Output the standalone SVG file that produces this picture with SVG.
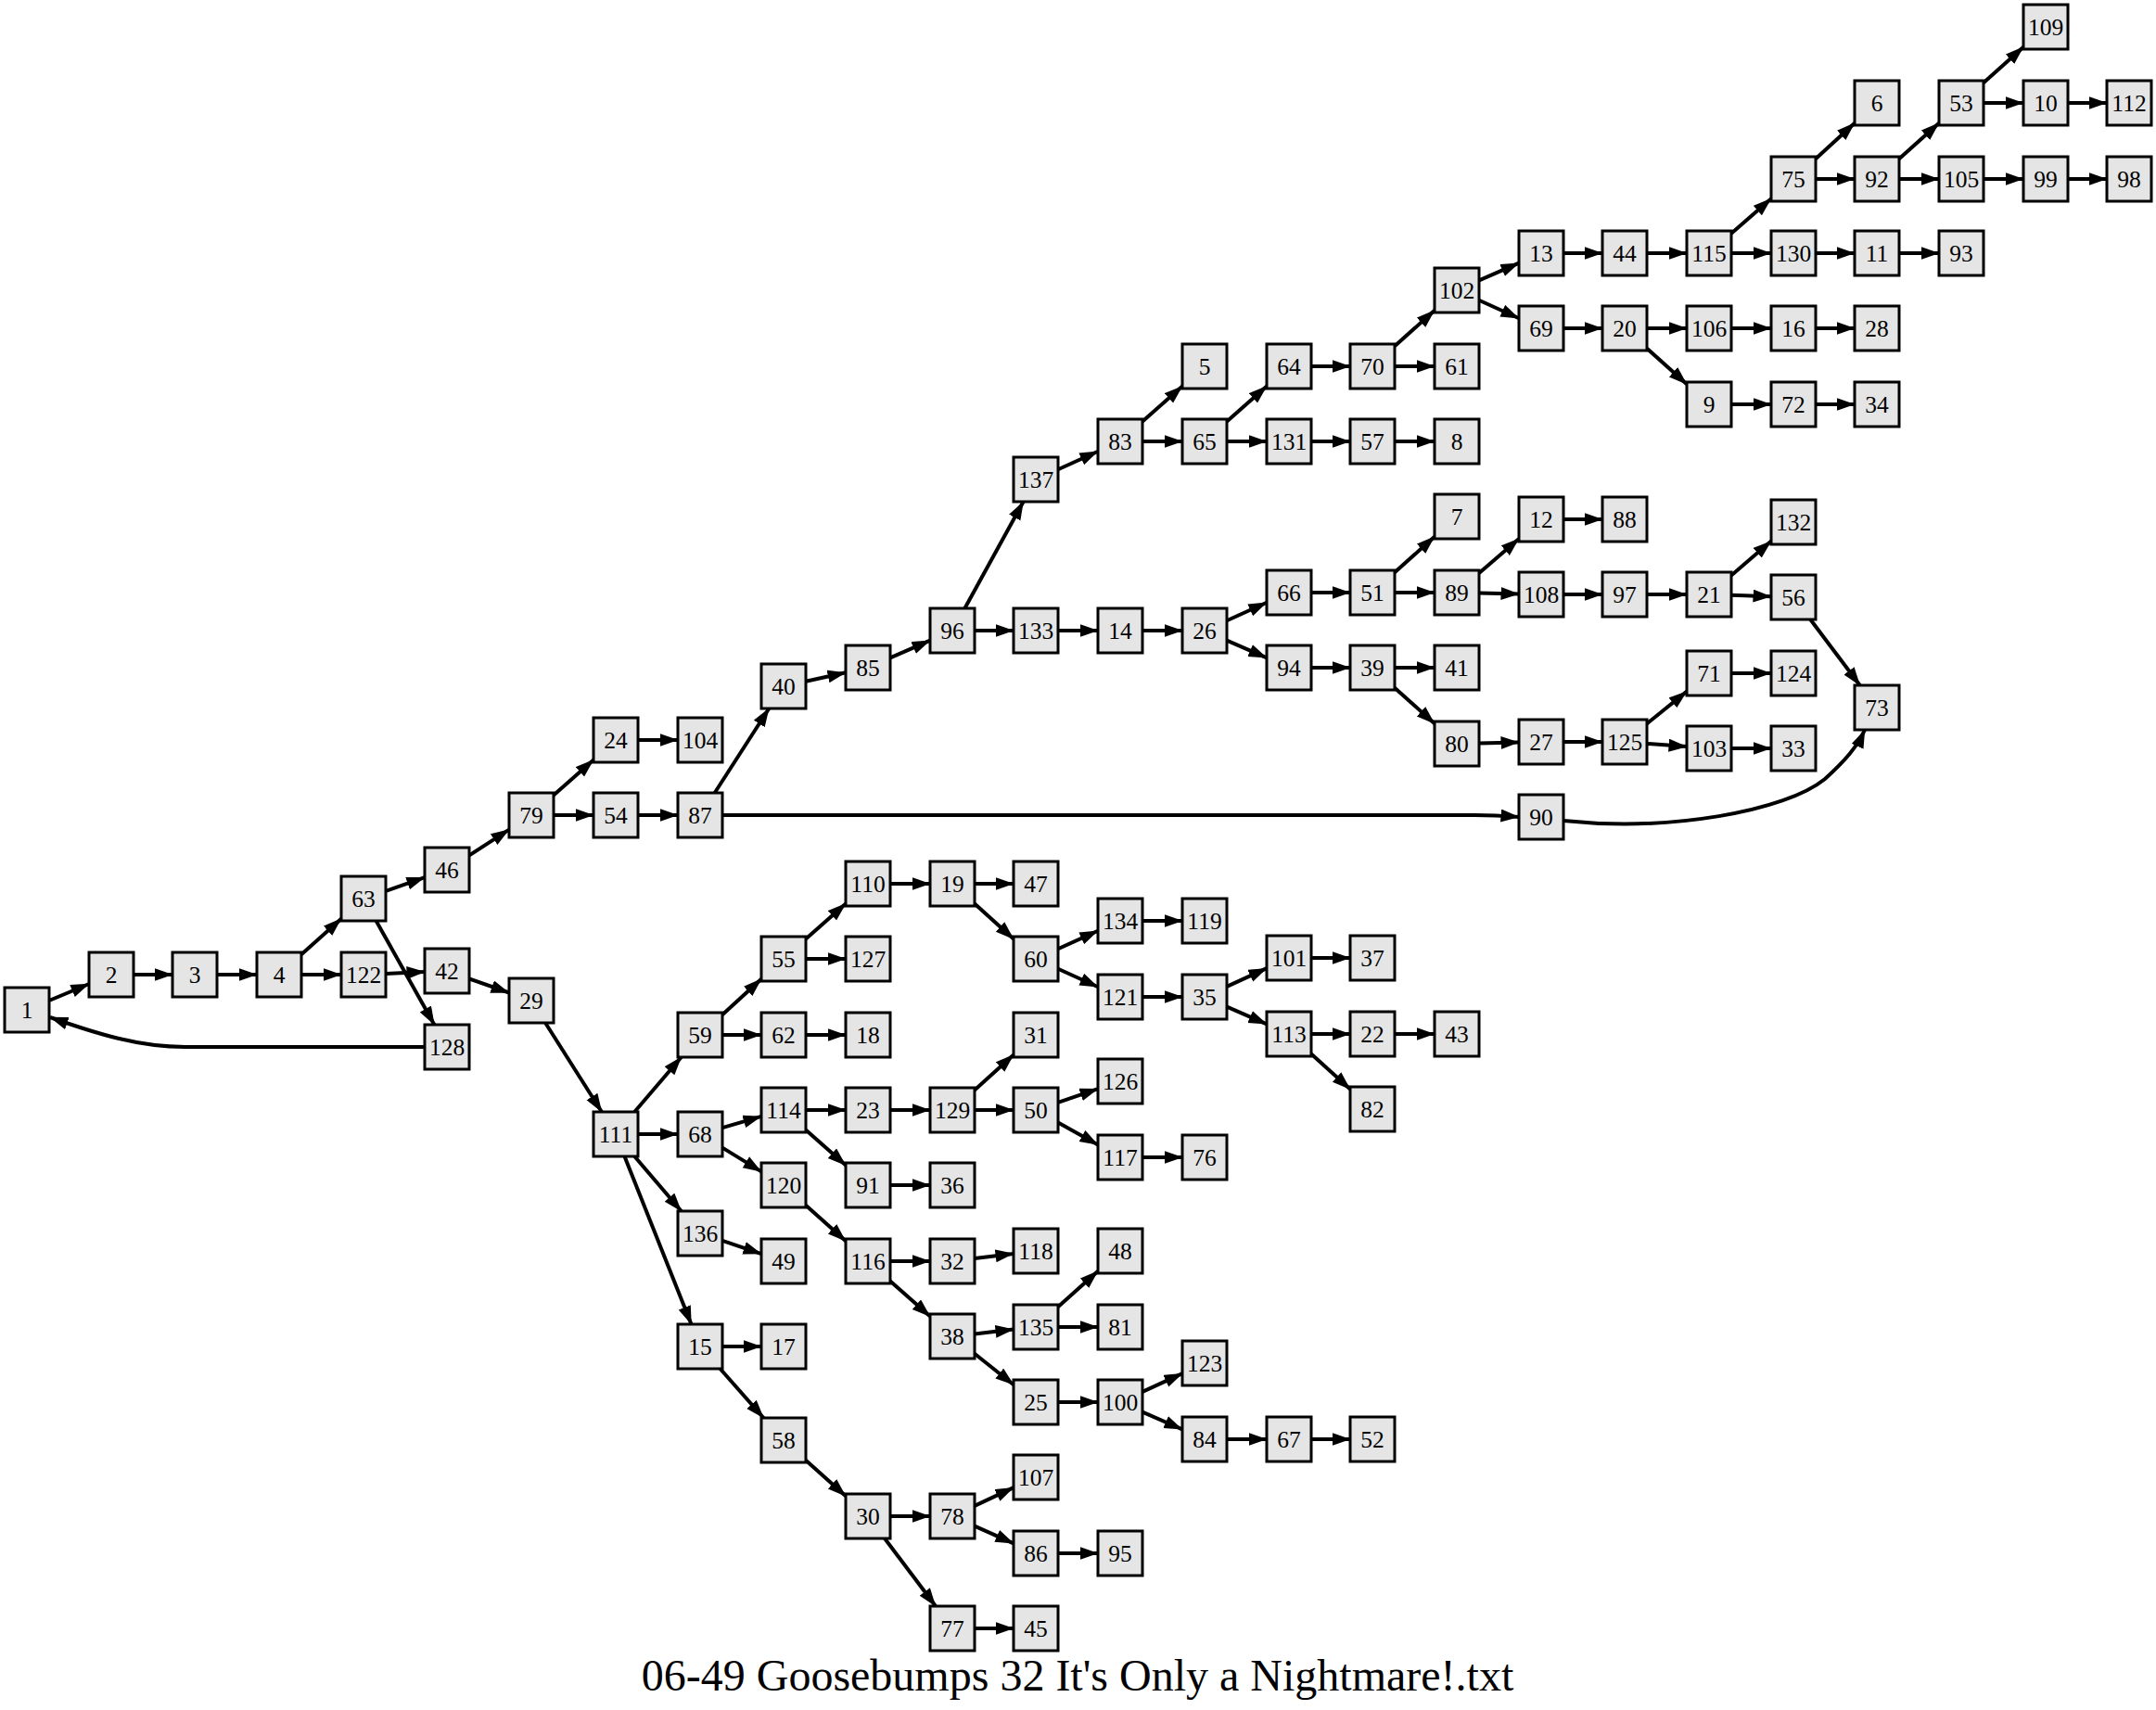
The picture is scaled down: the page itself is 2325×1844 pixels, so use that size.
<svg xmlns="http://www.w3.org/2000/svg" width="2325" height="1844" viewBox="0 0 2325 1844">
<style>
.node rect{fill:#e5e5e5;stroke:#000;stroke-width:3}
.node text{font-family:"Liberation Serif","Times New Roman",serif;font-size:25.5px;text-anchor:middle;fill:#000}
#edges path{fill:none;stroke:#000;stroke-width:4;marker-end:url(#arr)}
.title{font-family:"Liberation Serif","Times New Roman",serif;font-size:48px;text-anchor:middle;fill:#000}
</style>
<defs>
<marker id="arr" markerUnits="userSpaceOnUse" markerWidth="21" markerHeight="15" refX="19.5" refY="7" orient="auto">
<path d="M0,0 L20,7 L0,14 z" fill="#000"/>
</marker>
</defs>
<rect width="2325" height="1844" fill="#fff"/>
<g id="edges">
<path d="M53,1079 L96,1061"/>
<path d="M144,1051 L186,1051"/>
<path d="M234,1051 L277,1051"/>
<path d="M325,1029.3 L368,990.7"/>
<path d="M325,1051 L368,1051"/>
<path d="M416,960.8 L458,946.2"/>
<path d="M405.6,993 L468.4,1105"/>
<path d="M416,1049.9 L458,1048.1"/>
<path d="M506,1055.5 L549,1070.5"/>
<path d="M458,1129 L200,1129 C150,1129 105,1115 54,1097"/>
<path d="M506,922.4 L549,894.6"/>
<path d="M597,857.6 L640,819.4"/>
<path d="M597,879 L640,879"/>
<path d="M688,798 L731,798"/>
<path d="M688,879 L731,879"/>
<path d="M770.7,855 L829.3,764"/>
<path d="M779,879 L1590,879 C1610,879 1625,880 1638,881"/>
<path d="M869,734.7 L912,725.3"/>
<path d="M960,709.4 L1003,690.6"/>
<path d="M1040.4,656 L1103.6,541"/>
<path d="M1051,680 L1093,680"/>
<path d="M1141,506.2 L1184,486.8"/>
<path d="M1232,454.6 L1275,416.4"/>
<path d="M1232,476 L1275,476"/>
<path d="M1323,454.6 L1366,416.4"/>
<path d="M1323,476 L1366,476"/>
<path d="M1414,395 L1456,395"/>
<path d="M1504,373.3 L1547,334.7"/>
<path d="M1504,395 L1547,395"/>
<path d="M1414,476 L1456,476"/>
<path d="M1504,476 L1547,476"/>
<path d="M1595,302.4 L1638,283.6"/>
<path d="M1595,323.8 L1638,343.2"/>
<path d="M1686,273 L1728,273"/>
<path d="M1776,273 L1819,273"/>
<path d="M1867,251.8 L1910,214.2"/>
<path d="M1867,273 L1910,273"/>
<path d="M1958,171.3 L2000,132.7"/>
<path d="M1958,193 L2000,193"/>
<path d="M2048,171.3 L2091,132.7"/>
<path d="M2048,193 L2091,193"/>
<path d="M2139,89.3 L2182,50.7"/>
<path d="M2139,111 L2182,111"/>
<path d="M2230,111 L2272,111"/>
<path d="M2139,193 L2182,193"/>
<path d="M2230,193 L2272,193"/>
<path d="M1958,273 L2000,273"/>
<path d="M2048,273 L2091,273"/>
<path d="M1686,354 L1728,354"/>
<path d="M1776,354 L1819,354"/>
<path d="M1776,375.7 L1819,414.3"/>
<path d="M1867,354 L1910,354"/>
<path d="M1958,354 L2000,354"/>
<path d="M1867,436 L1910,436"/>
<path d="M1958,436 L2000,436"/>
<path d="M1141,680 L1184,680"/>
<path d="M1232,680 L1275,680"/>
<path d="M1323,669.2 L1366,649.8"/>
<path d="M1323,690.6 L1366,709.4"/>
<path d="M1414,639 L1456,639"/>
<path d="M1504,617.3 L1547,578.7"/>
<path d="M1504,639 L1547,639"/>
<path d="M1595,618.1 L1638,580.9"/>
<path d="M1595,639.5 L1638,640.5"/>
<path d="M1686,560 L1728,560"/>
<path d="M1686,641 L1728,641"/>
<path d="M1776,641 L1819,641"/>
<path d="M1867,620.4 L1910,583.6"/>
<path d="M1867,641.8 L1910,643.2"/>
<path d="M1952.3,668 L2005.7,739"/>
<path d="M1414,720 L1456,720"/>
<path d="M1504,720 L1547,720"/>
<path d="M1504,741.7 L1547,780.3"/>
<path d="M1595,801.5 L1638,800.5"/>
<path d="M1686,800 L1728,800"/>
<path d="M1776,780.4 L1819,745.6"/>
<path d="M1776,801.9 L1819,805.1"/>
<path d="M1867,726 L1910,726"/>
<path d="M1867,807 L1910,807"/>
<path d="M1686,885 C1800,897 1925,875 1968,840 C1990,820 2003,805 2011,787"/>
<path d="M588.1,1103 L648.9,1199"/>
<path d="M684.3,1199 L734.7,1140"/>
<path d="M688,1223 L731,1223"/>
<path d="M684.3,1247 L734.7,1306"/>
<path d="M673.5,1247 L745.5,1428"/>
<path d="M779,1094.3 L821,1055.7"/>
<path d="M779,1116 L821,1116"/>
<path d="M869,1012.6 L912,974.4"/>
<path d="M869,1034 L912,1034"/>
<path d="M960,953 L1003,953"/>
<path d="M1051,953 L1093,953"/>
<path d="M1051,974.4 L1093,1012.6"/>
<path d="M1141,1023.2 L1184,1003.8"/>
<path d="M1141,1044.8 L1184,1064.2"/>
<path d="M1232,993 L1275,993"/>
<path d="M1232,1075 L1275,1075"/>
<path d="M1323,1063.9 L1366,1044.1"/>
<path d="M1323,1085.6 L1366,1104.4"/>
<path d="M1414,1033 L1456,1033"/>
<path d="M1414,1115 L1456,1115"/>
<path d="M1414,1136.4 L1456,1174.6"/>
<path d="M1504,1115 L1547,1115"/>
<path d="M869,1116 L912,1116"/>
<path d="M779,1216.1 L821,1203.9"/>
<path d="M779,1237.6 L821,1263.4"/>
<path d="M869,1197 L912,1197"/>
<path d="M869,1218.4 L912,1256.6"/>
<path d="M960,1197 L1003,1197"/>
<path d="M1051,1175.6 L1093,1137.4"/>
<path d="M1051,1197 L1093,1197"/>
<path d="M1141,1188.8 L1184,1174.2"/>
<path d="M1141,1210.5 L1184,1234.5"/>
<path d="M1232,1248 L1275,1248"/>
<path d="M960,1278 L1003,1278"/>
<path d="M869,1299.7 L912,1338.3"/>
<path d="M960,1360 L1003,1360"/>
<path d="M960,1381.4 L1003,1419.6"/>
<path d="M1051,1357.1 L1093,1351.9"/>
<path d="M1051,1438.4 L1093,1433.6"/>
<path d="M1051,1459.8 L1093,1493.2"/>
<path d="M1141,1409.3 L1184,1370.7"/>
<path d="M1141,1431 L1184,1431"/>
<path d="M1141,1512 L1184,1512"/>
<path d="M1232,1500.9 L1275,1481.1"/>
<path d="M1232,1522.6 L1275,1541.4"/>
<path d="M1323,1552 L1366,1552"/>
<path d="M1414,1552 L1456,1552"/>
<path d="M779,1337.9 L821,1352.1"/>
<path d="M779,1452 L821,1452"/>
<path d="M776.6,1476 L823.4,1529"/>
<path d="M869,1574.7 L912,1613.3"/>
<path d="M960,1635 L1003,1635"/>
<path d="M954,1659 L1009,1732"/>
<path d="M1051,1623.9 L1093,1604.1"/>
<path d="M1051,1645.6 L1093,1664.4"/>
<path d="M1141,1675 L1184,1675"/>
<path d="M1051,1756 L1093,1756"/>
</g>
<g id="n1" class="node"><rect x="5" y="1065" width="48" height="48"/><text x="29" y="1097.5">1</text></g>
<g id="n2" class="node"><rect x="96" y="1027" width="48" height="48"/><text x="120" y="1059.5">2</text></g>
<g id="n3" class="node"><rect x="186" y="1027" width="48" height="48"/><text x="210" y="1059.5">3</text></g>
<g id="n4" class="node"><rect x="277" y="1027" width="48" height="48"/><text x="301" y="1059.5">4</text></g>
<g id="n63" class="node"><rect x="368" y="945" width="48" height="48"/><text x="392" y="977.5">63</text></g>
<g id="n122" class="node"><rect x="368" y="1027" width="48" height="48"/><text x="392" y="1059.5">122</text></g>
<g id="n46" class="node"><rect x="458" y="914" width="48" height="48"/><text x="482" y="946.5">46</text></g>
<g id="n42" class="node"><rect x="458" y="1023" width="48" height="48"/><text x="482" y="1055.5">42</text></g>
<g id="n128" class="node"><rect x="458" y="1105" width="48" height="48"/><text x="482" y="1137.5">128</text></g>
<g id="n79" class="node"><rect x="549" y="855" width="48" height="48"/><text x="573" y="887.5">79</text></g>
<g id="n29" class="node"><rect x="549" y="1055" width="48" height="48"/><text x="573" y="1087.5">29</text></g>
<g id="n24" class="node"><rect x="640" y="774" width="48" height="48"/><text x="664" y="806.5">24</text></g>
<g id="n54" class="node"><rect x="640" y="855" width="48" height="48"/><text x="664" y="887.5">54</text></g>
<g id="n111" class="node"><rect x="640" y="1199" width="48" height="48"/><text x="664" y="1231.5">111</text></g>
<g id="n104" class="node"><rect x="731" y="774" width="48" height="48"/><text x="755" y="806.5">104</text></g>
<g id="n87" class="node"><rect x="731" y="855" width="48" height="48"/><text x="755" y="887.5">87</text></g>
<g id="n59" class="node"><rect x="731" y="1092" width="48" height="48"/><text x="755" y="1124.5">59</text></g>
<g id="n68" class="node"><rect x="731" y="1199" width="48" height="48"/><text x="755" y="1231.5">68</text></g>
<g id="n136" class="node"><rect x="731" y="1306" width="48" height="48"/><text x="755" y="1338.5">136</text></g>
<g id="n15" class="node"><rect x="731" y="1428" width="48" height="48"/><text x="755" y="1460.5">15</text></g>
<g id="n40" class="node"><rect x="821" y="716" width="48" height="48"/><text x="845" y="748.5">40</text></g>
<g id="n55" class="node"><rect x="821" y="1010" width="48" height="48"/><text x="845" y="1042.5">55</text></g>
<g id="n62" class="node"><rect x="821" y="1092" width="48" height="48"/><text x="845" y="1124.5">62</text></g>
<g id="n114" class="node"><rect x="821" y="1173" width="48" height="48"/><text x="845" y="1205.5">114</text></g>
<g id="n120" class="node"><rect x="821" y="1254" width="48" height="48"/><text x="845" y="1286.5">120</text></g>
<g id="n49" class="node"><rect x="821" y="1336" width="48" height="48"/><text x="845" y="1368.5">49</text></g>
<g id="n17" class="node"><rect x="821" y="1428" width="48" height="48"/><text x="845" y="1460.5">17</text></g>
<g id="n58" class="node"><rect x="821" y="1529" width="48" height="48"/><text x="845" y="1561.5">58</text></g>
<g id="n85" class="node"><rect x="912" y="696" width="48" height="48"/><text x="936" y="728.5">85</text></g>
<g id="n110" class="node"><rect x="912" y="929" width="48" height="48"/><text x="936" y="961.5">110</text></g>
<g id="n127" class="node"><rect x="912" y="1010" width="48" height="48"/><text x="936" y="1042.5">127</text></g>
<g id="n18" class="node"><rect x="912" y="1092" width="48" height="48"/><text x="936" y="1124.5">18</text></g>
<g id="n23" class="node"><rect x="912" y="1173" width="48" height="48"/><text x="936" y="1205.5">23</text></g>
<g id="n91" class="node"><rect x="912" y="1254" width="48" height="48"/><text x="936" y="1286.5">91</text></g>
<g id="n116" class="node"><rect x="912" y="1336" width="48" height="48"/><text x="936" y="1368.5">116</text></g>
<g id="n30" class="node"><rect x="912" y="1611" width="48" height="48"/><text x="936" y="1643.5">30</text></g>
<g id="n96" class="node"><rect x="1003" y="656" width="48" height="48"/><text x="1027" y="688.5">96</text></g>
<g id="n19" class="node"><rect x="1003" y="929" width="48" height="48"/><text x="1027" y="961.5">19</text></g>
<g id="n129" class="node"><rect x="1003" y="1173" width="48" height="48"/><text x="1027" y="1205.5">129</text></g>
<g id="n36" class="node"><rect x="1003" y="1254" width="48" height="48"/><text x="1027" y="1286.5">36</text></g>
<g id="n32" class="node"><rect x="1003" y="1336" width="48" height="48"/><text x="1027" y="1368.5">32</text></g>
<g id="n38" class="node"><rect x="1003" y="1417" width="48" height="48"/><text x="1027" y="1449.5">38</text></g>
<g id="n78" class="node"><rect x="1003" y="1611" width="48" height="48"/><text x="1027" y="1643.5">78</text></g>
<g id="n77" class="node"><rect x="1003" y="1732" width="48" height="48"/><text x="1027" y="1764.5">77</text></g>
<g id="n137" class="node"><rect x="1093" y="493" width="48" height="48"/><text x="1117" y="525.5">137</text></g>
<g id="n133" class="node"><rect x="1093" y="656" width="48" height="48"/><text x="1117" y="688.5">133</text></g>
<g id="n47" class="node"><rect x="1093" y="929" width="48" height="48"/><text x="1117" y="961.5">47</text></g>
<g id="n60" class="node"><rect x="1093" y="1010" width="48" height="48"/><text x="1117" y="1042.5">60</text></g>
<g id="n31" class="node"><rect x="1093" y="1092" width="48" height="48"/><text x="1117" y="1124.5">31</text></g>
<g id="n50" class="node"><rect x="1093" y="1173" width="48" height="48"/><text x="1117" y="1205.5">50</text></g>
<g id="n118" class="node"><rect x="1093" y="1325" width="48" height="48"/><text x="1117" y="1357.5">118</text></g>
<g id="n135" class="node"><rect x="1093" y="1407" width="48" height="48"/><text x="1117" y="1439.5">135</text></g>
<g id="n25" class="node"><rect x="1093" y="1488" width="48" height="48"/><text x="1117" y="1520.5">25</text></g>
<g id="n107" class="node"><rect x="1093" y="1569" width="48" height="48"/><text x="1117" y="1601.5">107</text></g>
<g id="n86" class="node"><rect x="1093" y="1651" width="48" height="48"/><text x="1117" y="1683.5">86</text></g>
<g id="n45" class="node"><rect x="1093" y="1732" width="48" height="48"/><text x="1117" y="1764.5">45</text></g>
<g id="n83" class="node"><rect x="1184" y="452" width="48" height="48"/><text x="1208" y="484.5">83</text></g>
<g id="n14" class="node"><rect x="1184" y="656" width="48" height="48"/><text x="1208" y="688.5">14</text></g>
<g id="n134" class="node"><rect x="1184" y="969" width="48" height="48"/><text x="1208" y="1001.5">134</text></g>
<g id="n121" class="node"><rect x="1184" y="1051" width="48" height="48"/><text x="1208" y="1083.5">121</text></g>
<g id="n126" class="node"><rect x="1184" y="1142" width="48" height="48"/><text x="1208" y="1174.5">126</text></g>
<g id="n117" class="node"><rect x="1184" y="1224" width="48" height="48"/><text x="1208" y="1256.5">117</text></g>
<g id="n48" class="node"><rect x="1184" y="1325" width="48" height="48"/><text x="1208" y="1357.5">48</text></g>
<g id="n81" class="node"><rect x="1184" y="1407" width="48" height="48"/><text x="1208" y="1439.5">81</text></g>
<g id="n100" class="node"><rect x="1184" y="1488" width="48" height="48"/><text x="1208" y="1520.5">100</text></g>
<g id="n95" class="node"><rect x="1184" y="1651" width="48" height="48"/><text x="1208" y="1683.5">95</text></g>
<g id="n5" class="node"><rect x="1275" y="371" width="48" height="48"/><text x="1299" y="403.5">5</text></g>
<g id="n65" class="node"><rect x="1275" y="452" width="48" height="48"/><text x="1299" y="484.5">65</text></g>
<g id="n26" class="node"><rect x="1275" y="656" width="48" height="48"/><text x="1299" y="688.5">26</text></g>
<g id="n119" class="node"><rect x="1275" y="969" width="48" height="48"/><text x="1299" y="1001.5">119</text></g>
<g id="n35" class="node"><rect x="1275" y="1051" width="48" height="48"/><text x="1299" y="1083.5">35</text></g>
<g id="n76" class="node"><rect x="1275" y="1224" width="48" height="48"/><text x="1299" y="1256.5">76</text></g>
<g id="n123" class="node"><rect x="1275" y="1446" width="48" height="48"/><text x="1299" y="1478.5">123</text></g>
<g id="n84" class="node"><rect x="1275" y="1528" width="48" height="48"/><text x="1299" y="1560.5">84</text></g>
<g id="n64" class="node"><rect x="1366" y="371" width="48" height="48"/><text x="1390" y="403.5">64</text></g>
<g id="n131" class="node"><rect x="1366" y="452" width="48" height="48"/><text x="1390" y="484.5">131</text></g>
<g id="n66" class="node"><rect x="1366" y="615" width="48" height="48"/><text x="1390" y="647.5">66</text></g>
<g id="n94" class="node"><rect x="1366" y="696" width="48" height="48"/><text x="1390" y="728.5">94</text></g>
<g id="n101" class="node"><rect x="1366" y="1009" width="48" height="48"/><text x="1390" y="1041.5">101</text></g>
<g id="n113" class="node"><rect x="1366" y="1091" width="48" height="48"/><text x="1390" y="1123.5">113</text></g>
<g id="n67" class="node"><rect x="1366" y="1528" width="48" height="48"/><text x="1390" y="1560.5">67</text></g>
<g id="n70" class="node"><rect x="1456" y="371" width="48" height="48"/><text x="1480" y="403.5">70</text></g>
<g id="n57" class="node"><rect x="1456" y="452" width="48" height="48"/><text x="1480" y="484.5">57</text></g>
<g id="n51" class="node"><rect x="1456" y="615" width="48" height="48"/><text x="1480" y="647.5">51</text></g>
<g id="n39" class="node"><rect x="1456" y="696" width="48" height="48"/><text x="1480" y="728.5">39</text></g>
<g id="n37" class="node"><rect x="1456" y="1009" width="48" height="48"/><text x="1480" y="1041.5">37</text></g>
<g id="n22" class="node"><rect x="1456" y="1091" width="48" height="48"/><text x="1480" y="1123.5">22</text></g>
<g id="n82" class="node"><rect x="1456" y="1172" width="48" height="48"/><text x="1480" y="1204.5">82</text></g>
<g id="n52" class="node"><rect x="1456" y="1528" width="48" height="48"/><text x="1480" y="1560.5">52</text></g>
<g id="n102" class="node"><rect x="1547" y="289" width="48" height="48"/><text x="1571" y="321.5">102</text></g>
<g id="n61" class="node"><rect x="1547" y="371" width="48" height="48"/><text x="1571" y="403.5">61</text></g>
<g id="n8" class="node"><rect x="1547" y="452" width="48" height="48"/><text x="1571" y="484.5">8</text></g>
<g id="n7" class="node"><rect x="1547" y="533" width="48" height="48"/><text x="1571" y="565.5">7</text></g>
<g id="n89" class="node"><rect x="1547" y="615" width="48" height="48"/><text x="1571" y="647.5">89</text></g>
<g id="n41" class="node"><rect x="1547" y="696" width="48" height="48"/><text x="1571" y="728.5">41</text></g>
<g id="n80" class="node"><rect x="1547" y="778" width="48" height="48"/><text x="1571" y="810.5">80</text></g>
<g id="n43" class="node"><rect x="1547" y="1091" width="48" height="48"/><text x="1571" y="1123.5">43</text></g>
<g id="n13" class="node"><rect x="1638" y="249" width="48" height="48"/><text x="1662" y="281.5">13</text></g>
<g id="n69" class="node"><rect x="1638" y="330" width="48" height="48"/><text x="1662" y="362.5">69</text></g>
<g id="n12" class="node"><rect x="1638" y="536" width="48" height="48"/><text x="1662" y="568.5">12</text></g>
<g id="n108" class="node"><rect x="1638" y="617" width="48" height="48"/><text x="1662" y="649.5">108</text></g>
<g id="n27" class="node"><rect x="1638" y="776" width="48" height="48"/><text x="1662" y="808.5">27</text></g>
<g id="n90" class="node"><rect x="1638" y="857" width="48" height="48"/><text x="1662" y="889.5">90</text></g>
<g id="n44" class="node"><rect x="1728" y="249" width="48" height="48"/><text x="1752" y="281.5">44</text></g>
<g id="n20" class="node"><rect x="1728" y="330" width="48" height="48"/><text x="1752" y="362.5">20</text></g>
<g id="n88" class="node"><rect x="1728" y="536" width="48" height="48"/><text x="1752" y="568.5">88</text></g>
<g id="n97" class="node"><rect x="1728" y="617" width="48" height="48"/><text x="1752" y="649.5">97</text></g>
<g id="n125" class="node"><rect x="1728" y="776" width="48" height="48"/><text x="1752" y="808.5">125</text></g>
<g id="n115" class="node"><rect x="1819" y="249" width="48" height="48"/><text x="1843" y="281.5">115</text></g>
<g id="n106" class="node"><rect x="1819" y="330" width="48" height="48"/><text x="1843" y="362.5">106</text></g>
<g id="n9" class="node"><rect x="1819" y="412" width="48" height="48"/><text x="1843" y="444.5">9</text></g>
<g id="n21" class="node"><rect x="1819" y="617" width="48" height="48"/><text x="1843" y="649.5">21</text></g>
<g id="n71" class="node"><rect x="1819" y="702" width="48" height="48"/><text x="1843" y="734.5">71</text></g>
<g id="n103" class="node"><rect x="1819" y="783" width="48" height="48"/><text x="1843" y="815.5">103</text></g>
<g id="n75" class="node"><rect x="1910" y="169" width="48" height="48"/><text x="1934" y="201.5">75</text></g>
<g id="n130" class="node"><rect x="1910" y="249" width="48" height="48"/><text x="1934" y="281.5">130</text></g>
<g id="n16" class="node"><rect x="1910" y="330" width="48" height="48"/><text x="1934" y="362.5">16</text></g>
<g id="n72" class="node"><rect x="1910" y="412" width="48" height="48"/><text x="1934" y="444.5">72</text></g>
<g id="n132" class="node"><rect x="1910" y="539" width="48" height="48"/><text x="1934" y="571.5">132</text></g>
<g id="n56" class="node"><rect x="1910" y="620" width="48" height="48"/><text x="1934" y="652.5">56</text></g>
<g id="n124" class="node"><rect x="1910" y="702" width="48" height="48"/><text x="1934" y="734.5">124</text></g>
<g id="n33" class="node"><rect x="1910" y="783" width="48" height="48"/><text x="1934" y="815.5">33</text></g>
<g id="n6" class="node"><rect x="2000" y="87" width="48" height="48"/><text x="2024" y="119.5">6</text></g>
<g id="n92" class="node"><rect x="2000" y="169" width="48" height="48"/><text x="2024" y="201.5">92</text></g>
<g id="n11" class="node"><rect x="2000" y="249" width="48" height="48"/><text x="2024" y="281.5">11</text></g>
<g id="n28" class="node"><rect x="2000" y="330" width="48" height="48"/><text x="2024" y="362.5">28</text></g>
<g id="n34" class="node"><rect x="2000" y="412" width="48" height="48"/><text x="2024" y="444.5">34</text></g>
<g id="n73" class="node"><rect x="2000" y="739" width="48" height="48"/><text x="2024" y="771.5">73</text></g>
<g id="n53" class="node"><rect x="2091" y="87" width="48" height="48"/><text x="2115" y="119.5">53</text></g>
<g id="n105" class="node"><rect x="2091" y="169" width="48" height="48"/><text x="2115" y="201.5">105</text></g>
<g id="n93" class="node"><rect x="2091" y="249" width="48" height="48"/><text x="2115" y="281.5">93</text></g>
<g id="n109" class="node"><rect x="2182" y="5" width="48" height="48"/><text x="2206" y="37.5">109</text></g>
<g id="n10" class="node"><rect x="2182" y="87" width="48" height="48"/><text x="2206" y="119.5">10</text></g>
<g id="n99" class="node"><rect x="2182" y="169" width="48" height="48"/><text x="2206" y="201.5">99</text></g>
<g id="n112" class="node"><rect x="2272" y="87" width="48" height="48"/><text x="2296" y="119.5">112</text></g>
<g id="n98" class="node"><rect x="2272" y="169" width="48" height="48"/><text x="2296" y="201.5">98</text></g>
<text class="title" x="1162" y="1823">06-49 Goosebumps 32 It's Only a Nightmare!.txt</text>
</svg>
